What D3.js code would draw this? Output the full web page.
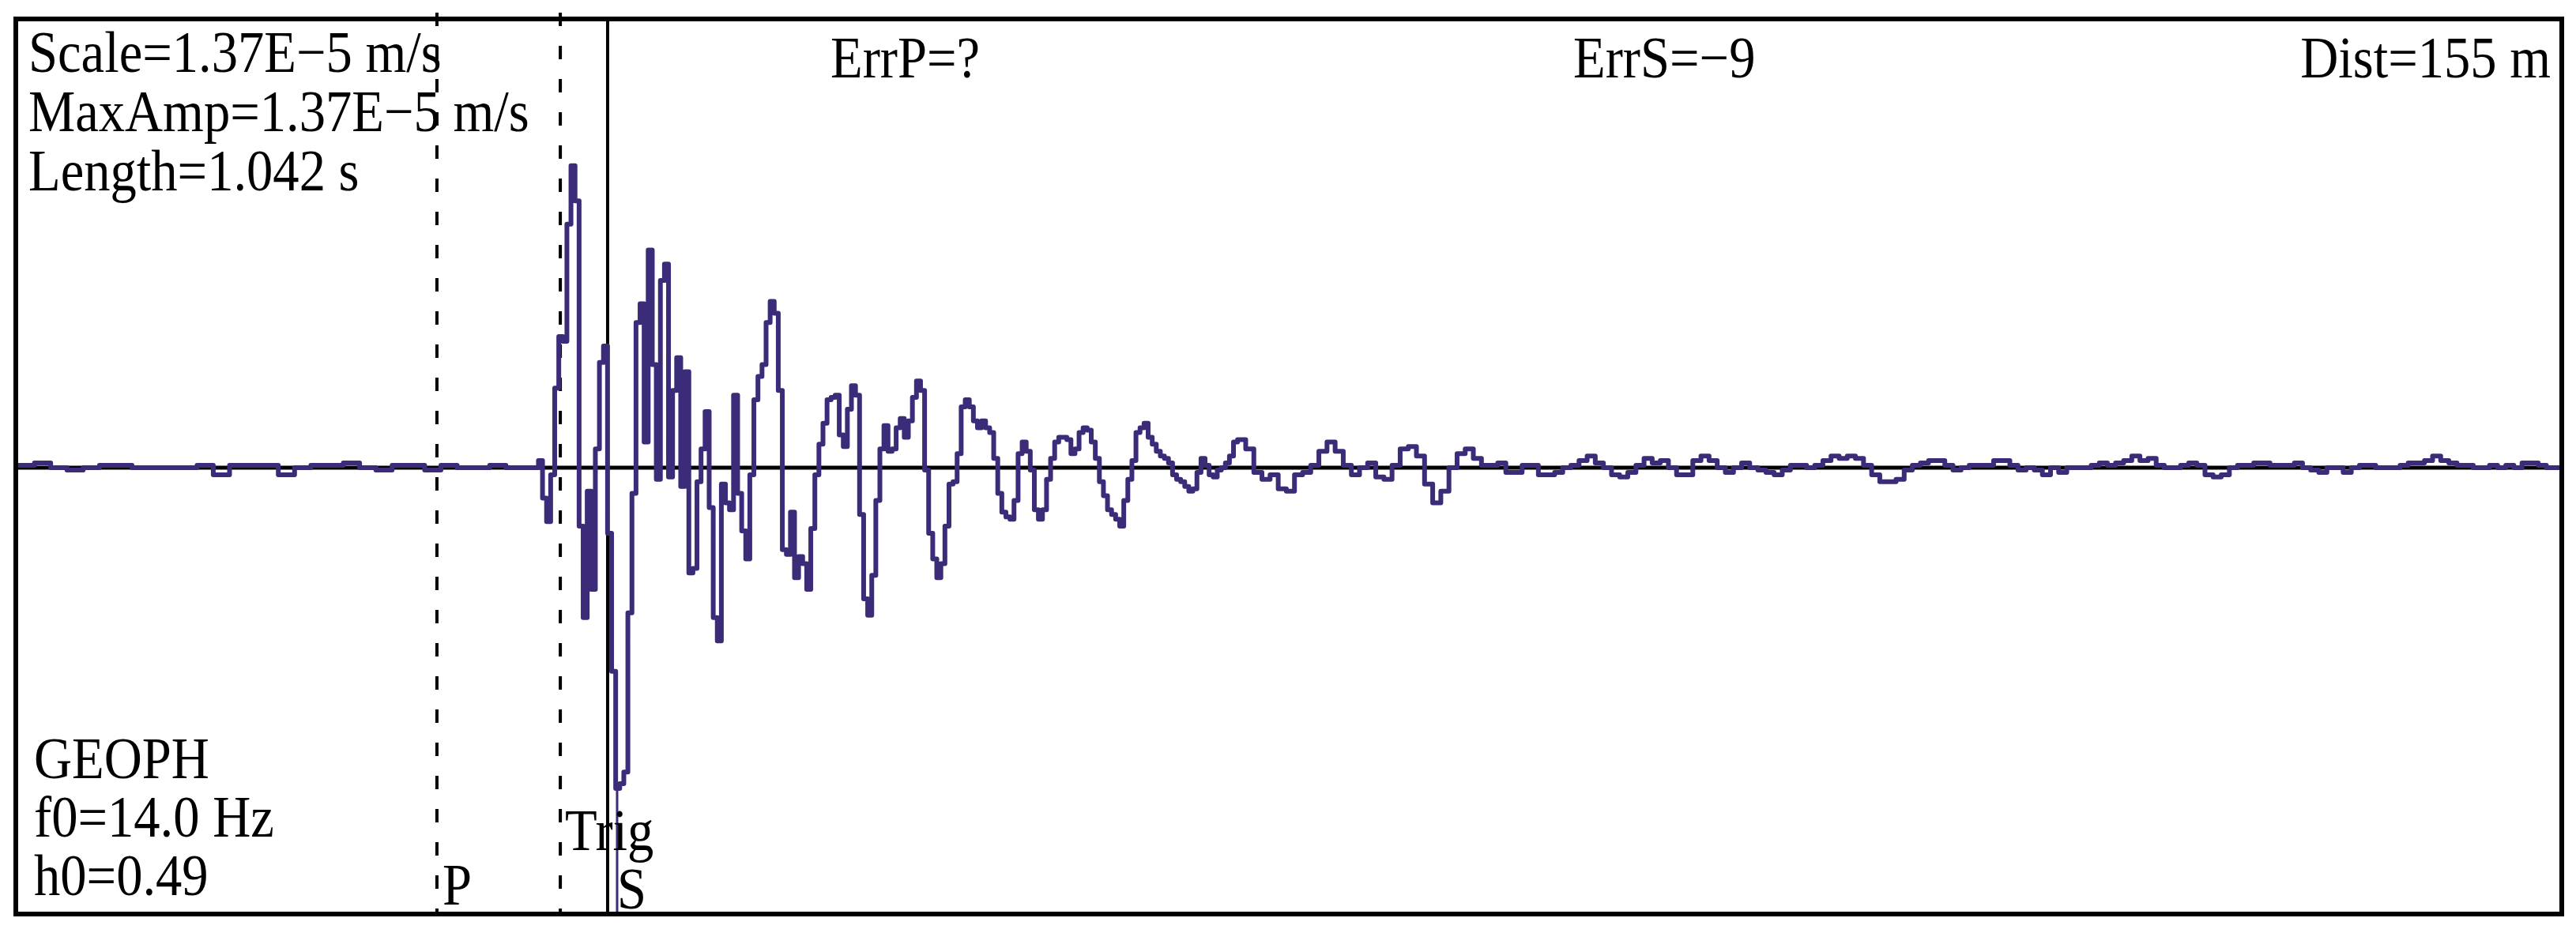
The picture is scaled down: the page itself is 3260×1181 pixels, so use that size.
<!DOCTYPE html>
<html>
<head>
<meta charset="utf-8">
<script src="https://cdn.jsdelivr.net/npm/d3@7"></script>
<style>
  body { margin: 0; background: #fff; }
  text { font-family: "Liberation Serif", "Times New Roman", serif; font-size: 74px; fill: #000; }
</style>
</head>
<body>
<svg width="3260" height="1181"></svg>
<script>
// header texts of the trace
var infoTop = ["Scale=1.37E\u22125 m/s", "MaxAmp=1.37E\u22125 m/s", "Length=1.042 s"];
var infoBottom = ["GEOPH", "f0=14.0 Hz", "h0=0.49"];
var header = ["ErrP=?", "ErrS=\u22129", "Dist=155 m"];

var sampleRate = 600;     // Hz
var traceLength = 1.042;  // s
var maxAmp = 137;         // in 1e-7 m/s

// picks (seconds from start of trace)
var pickNames = ["P", "Trig", "S"];
var pickTimes = [0.1717, 0.2223, 0.2417];

// amplitudes in 1e-7 m/s in three stretches
// (start sample, every n-th sample)
var preStart = 0, preStep = 4;
var preValues = [1, 2, 0, -1, 0, 1, 1, 0, 0, 0, 0, 1, -3, 1, 1, 1,
  -3, 0, 1, 1, 2, 0, -1, 1, 1, -1, 1, 0, 0, 1, 0, 0];

var mainStart = 128, mainStep = 1;
var mainValues = [3, -13, -23, -3, 34, 56, 54, 104, 129, 114,
  -25, -64, -10, -52, 8, 45, 52, -28, -87, -137,
  -135, -130, -62, -11, 62, 70, 11, 93, 44, -5,
  80, 87, -4, 33, 47, -8, 41, -45, -43, -6,
  8, 24, -17, -64, -74, -7, -15, -18, 31, -11,
  -27, -39, -3, 29, 39, 44, 62, 71, 66, 33,
  -35, -37, -19, -47, -38, -41, -52, -26, -3, 10,
  19, 29, 30, 31, 14, 9, 25, 35, 31, -20,
  -56, -63, -46, -14, 8, 18, 7, 8, 17, 21,
  13, 20, 30, 37, 33, -1, -28, -39, -47, -41,
  -25, -7, -6, 6, 26, 29, 26, 20, 17, 20,
  17, 15, 4, -11, -19, -21, -22, -14, 6, 11,
  7, -1, -18, -22, -18, -5, 4, 11, 13, 13,
  12, 6, 8, 15, 17, 16, 11, 4, -6, -12,
  -18, -20, -22, -25, -14, -5, 3, 15, 17, 19,
  13, 10, 7, 5, 4, 2, -3, -5, -6, -8,
  -10, -9, -2, 4, 1, -3, -4, -1, 0, 2,
  5, 11, 12];

var codaStart = 302, codaStep = 2;
var codaValues = [8, -2, -5, -3, -9, -10, -3, -2, 1, 7,
  11, 7, 1, -3, 0, 2, -4, -5, 1, 8,
  9, 5, -7, -15, -10, 0, 6, 8, 4, 1,
  1, 2, -2, -2, 1, 1, -3, -3, -2,
  0, 1, 3, 5, 2, 0, -3, -4, -2, 1,
  4, 2, 3, 0, -3, -3, 3, 5, 3, 0,
  -2, 0, 2, 0, -1, -2, -3, -1, 1, 1,
  0, 1, 3, 5, 4, 5, 4, 1, -3, -6,
  -6, -5, -1, 1, 2, 3, 3, 1, -1, 0, 1,
  1, 1, 3, 3, 1, -1, 0, -1, -3, 0,
  -2, 0, 0, 0, 1, 2, 1, 2, 3, 5,
  3, 4, 1, 0, 0, 1, 2, 1, -3, -4,
  -3, 0, 1, 1, 2, 2, 1, 1, 1, 2,
  0, -1, -2, 0, 0, -2, 0, 1, 1, 0,
  0, 0, 1, 2, 2, 3, 5, 3, 2, 1,
  1, 0, 0, 1, 0, 1, 0, 2, 2, 1,
  0, 0];

// build the sample list
var samples = [];
function addStretch(start, step, values) {
  values.forEach(function (v, i) {
    samples.push({ t: (start + i * step) / sampleRate, v: v });
  });
}
addStretch(preStart, preStep, preValues);
addStretch(mainStart, mainStep, mainValues);
addStretch(codaStart, codaStep, codaValues);
// hold the last sample to the end of the record
samples.push({ t: traceLength, v: samples[samples.length - 1].v });

var svg = d3.select("svg");

// plot frame
var frame = { left: 20, top: 24, right: 3242, bottom: 1157 };
var yZero = 592;

var x = d3.scaleLinear().domain([0, traceLength]).range([23, 3239]);
var y = d3.scaleLinear().domain([-maxAmp, maxAmp]).range([yZero + 406, yZero - 406]);

// pick lines
pickNames.forEach(function (name, i) {
  var px = x(pickTimes[i]);
  var ln = svg.append("line")
    .attr("x1", px).attr("x2", px)
    .attr("y1", name == "S" ? frame.top : 16)
    .attr("y2", frame.bottom)
    .attr("stroke", "#000")
    .attr("stroke-width", 4);
  if (name != "S") ln.attr("stroke-dasharray", "17,25");
});

// zero line
svg.append("line")
  .attr("x1", frame.left).attr("x2", frame.right)
  .attr("y1", y(0)).attr("y2", y(0))
  .attr("stroke", "#000")
  .attr("stroke-width", 5);

// the trace
var line = d3.line()
  .x(function (d) { return x(d.t); })
  .y(function (d) { return y(d.v); })
  .curve(d3.curveStepAfter);

svg.append("path")
  .datum(samples)
  .attr("d", line)
  .attr("fill", "none")
  .attr("stroke", "#3b2b78")
  .attr("stroke-width", 6)
  .attr("stroke-linejoin", "round");

// little S mark below the trough
var sx = x(pickTimes[2]) + 12;
svg.append("line")
  .attr("x1", sx).attr("x2", sx)
  .attr("y1", y(-maxAmp)).attr("y2", frame.bottom)
  .attr("stroke", "#3b2b78")
  .attr("stroke-width", 3);

// frame drawn last so the trace ends under it
svg.append("rect")
  .attr("x", frame.left).attr("y", frame.top)
  .attr("width", frame.right - frame.left)
  .attr("height", frame.bottom - frame.top)
  .attr("fill", "none")
  .attr("stroke", "#000")
  .attr("stroke-width", 6);

// texts: the font of the original is a little narrow
function label(tx, ty, str, anchor) {
  return svg.append("text")
    .attr("transform", "translate(" + tx + "," + ty + ") scale(0.9,1)")
    .attr("text-anchor", anchor || "start")
    .text(str);
}

infoTop.forEach(function (d, i) { label(36, 91 + i * 75, d); });
infoBottom.forEach(function (d, i) { label(43, 985 + i * 74, d); });

label(1051, 98, header[0]);
label(1991, 98, header[1]);
label(3228, 98, header[2], "end");

// pick labels
label(x(pickTimes[0]) + 7, 1145, pickNames[0]);
label(x(pickTimes[1]) + 6, 1076, pickNames[1]);
label(sx, 1150, pickNames[2]);
</script>
</body>
</html>
